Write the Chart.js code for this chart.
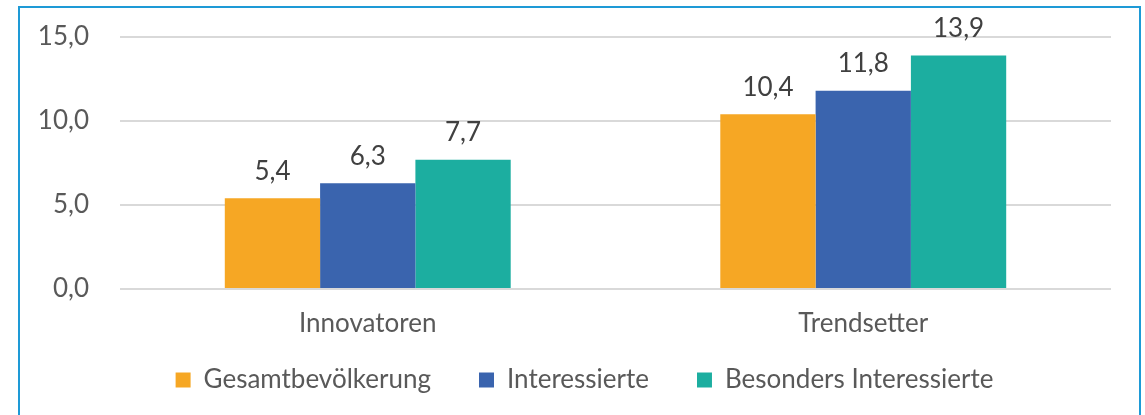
<!DOCTYPE html>
<html>
<head>
<meta charset="utf-8">
<script src="https://cdn.jsdelivr.net/npm/chart.js@4"></script>
<style>
	html, body { margin: 0; padding: 0; background: #fff; overflow: hidden; }
	#wrap { position: relative; width: 1145px; height: 415px; }
	#frame {
		position: absolute; left: 18px; top: 6px; width: 1123px; height: 430px;
		border: 2px solid #1e9ad6; box-sizing: border-box; pointer-events: none;
	}
</style>
</head>
<body>
<div id="wrap">
	<canvas id="bar-chartcanvas" width="1145" height="415"></canvas>
	<div id="frame"></div>
</div>
<script>
var categories = ["Innovatoren", "Trendsetter"];
var gesamt = [5.4, 10.4];
var interessierte = [6.3, 11.8];
var besonders = [7.7, 13.9];
var yTicks = [0, 5, 10, 15];

function fmt(v) {
	return Number(v).toFixed(1).replace(".", ",");
}

var valueLabels = {
	id: "valueLabels",
	afterLayout: function (chart) {
		// legend in the original sits right of centre and close under the categories
		chart.legend.left += 29;
		chart.legend.right += 29;
		chart.legend.top -= 39;
		chart.legend.bottom -= 39;
	},
	afterDatasetsDraw: function (chart) {
		var ctx = chart.ctx;
		ctx.save();
		ctx.font = "26px Lato";
		ctx.fillStyle = "#404040";
		ctx.textAlign = "center";
		ctx.textBaseline = "middle";
		chart.data.datasets.forEach(function (ds, i) {
			chart.getDatasetMeta(i).data.forEach(function (bar, j) {
				ctx.fillText(fmt(ds.data[j]), bar.x, bar.y - 27);
			});
		});
		ctx.restore();
	}
};

var ctx = document.getElementById("bar-chartcanvas");

var data = {
	labels: categories,
	datasets: [{
			label: "Gesamtbevölkerung",
			data: gesamt,
			backgroundColor: "#f6a724"
		},
		{
			label: "Interessierte",
			data: interessierte,
			backgroundColor: "#3a64ae"
		},
		{
			label: "Besonders Interessierte",
			data: besonders,
			backgroundColor: "#1caea0"
		}
	]
};

var options = {
	responsive: false,
	animation: false,
	layout: {
		padding: { left: 0, right: 34, top: 37, bottom: -27 }
	},
	datasets: {
		bar: { categoryPercentage: 0.577, barPercentage: 1.0 }
	},
	plugins: {
		legend: {
			position: "bottom",
			labels: {
				boxWidth: 15,
				boxHeight: 15,
				padding: 48,
				color: "#595959",
				font: { family: "Lato", size: 26 }
			}
		},
		tooltip: { enabled: false }
	},
	scales: {
		x: {
			grid: { display: false, drawTicks: false },
			border: { display: false },
			ticks: {
				color: "#595959",
				padding: 19,
				font: { family: "Lato", size: 26 }
			},
			afterFit: function (scale) { scale.height = 69; }
		},
		y: {
			min: 0,
			max: 15,
			afterBuildTicks: function (scale) {
				scale.ticks = yTicks.map(function (v) { return { value: v }; });
			},
			grid: { color: "#d9d9d9", lineWidth: 2, drawTicks: false },
			border: { display: false },
			ticks: {
				color: "#595959",
				padding: 31,
				font: { family: "Lato", size: 26 },
				callback: function (v) { return fmt(v); }
			},
			afterFit: function (scale) {
				scale.width = 120;
				scale.paddingTop = 0;
				scale.paddingBottom = 0;
			}
		}
	}
};

var chart = new Chart(ctx, {
	type: "bar",
	data: data,
	options: options,
	plugins: [valueLabels]
});
</script>
</body>
</html>
